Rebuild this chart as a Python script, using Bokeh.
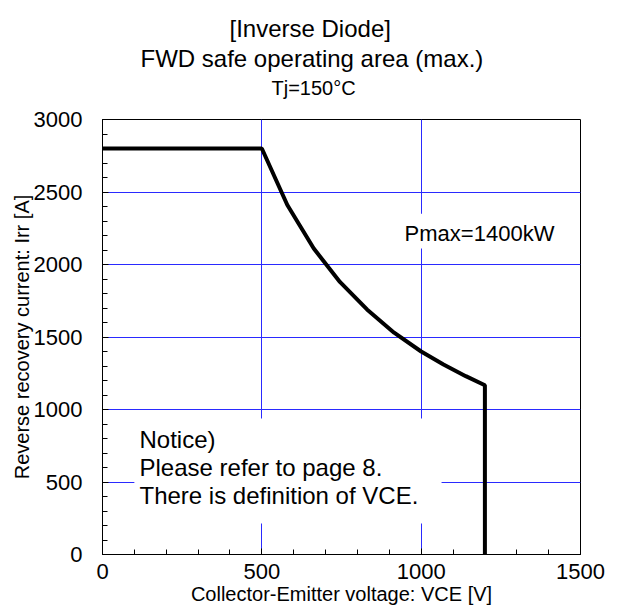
from bokeh.plotting import figure
from bokeh.models import Label, BoxAnnotation, FixedTicker, Range1d, Title
from bokeh.embed import file_html
from bokeh.resources import INLINE

# ---- data ----
vce = [0, 500, 580, 663, 745, 830, 915, 1000, 1070, 1140, 1200, 1200]
irr = [2800, 2800, 2410, 2110, 1880, 1690, 1530, 1400, 1310, 1230, 1167, 0]

x_major = [0, 500, 1000, 1500]
y_major = [0, 500, 1000, 1500, 2000, 2500, 3000]
x_minor = [0, 100, 200, 300, 400, 500, 600, 700, 800, 900, 1000, 1100, 1200, 1300, 1400, 1500]
y_minor = [0, 100, 200, 300, 400, 500, 600, 700, 800, 900, 1000, 1100, 1200, 1300, 1400, 1500,
           1600, 1700, 1800, 1900, 2000, 2100, 2200, 2300, 2400, 2500, 2600, 2700, 2800, 2900, 3000]

title_lines = ["[Inverse Diode]", "FWD safe operating area (max.)"]
subtitle = "Tj=150°C"
x_title = "Collector-Emitter voltage: VCE [V]"
y_title = "Reverse recovery current: Irr [A]"
pmax_text = "Pmax=1400kW"
notice_lines = ["Notice)", "Please refer to page 8.", "There is definition of VCE."]

FONT = "Liberation Sans"

p = figure(width=620, height=611,
           x_range=Range1d(0, 1500), y_range=Range1d(0, 3000),
           output_backend="svg", toolbar_location=None,
           min_border_left=102, min_border_right=40,
           min_border_top=119, min_border_bottom=57)
p.title.visible = False

p.background_fill_color = "white"
p.border_fill_color = "white"
p.outline_line_color = "black"
p.outline_line_width = 1

# ticks
p.xaxis.ticker = FixedTicker(ticks=x_major, minor_ticks=x_minor)
p.yaxis.ticker = FixedTicker(ticks=y_major, minor_ticks=y_minor)
for ax in (p.xaxis, p.yaxis):
    ax.axis_line_color = "black"
    ax.major_tick_in = 6
    ax.major_tick_out = 0
    ax.minor_tick_in = 5
    ax.minor_tick_out = 0
    ax.major_tick_line_color = "black"
    ax.minor_tick_line_color = "black"
    ax.major_label_text_font = FONT
    ax.major_label_text_font_size = "22px"
    ax.major_label_text_color = "black"
    ax.axis_label_text_font = FONT
    ax.axis_label_text_font_size = "20px"
    ax.axis_label_text_font_style = "normal"
    ax.axis_label_text_color = "black"
p.xaxis.major_label_standoff = 9
p.xaxis.axis_label_standoff = 1
p.yaxis.major_label_standoff = 20
p.yaxis.axis_label_standoff = -2
p.xaxis.axis_label = x_title
p.yaxis.axis_label = y_title

# grid
p.xgrid.ticker = FixedTicker(ticks=x_major)
p.ygrid.ticker = FixedTicker(ticks=y_major)
p.grid.grid_line_color = "#2a2aff"
p.grid.grid_line_width = 1

# curve
p.line(vce, irr, line_color="black", line_width=4)

# white boxes behind text
p.add_layout(BoxAnnotation(left=100, right=1064, bottom=214, top=938,
                           fill_color="white", fill_alpha=1.0, line_color=None))
p.add_layout(BoxAnnotation(left=940, right=1420, bottom=2110, top=2350,
                           fill_color="white", fill_alpha=1.0, line_color=None))

# titles (first added sits nearest the plot); a tiny blank title acts as spacer
p.add_layout(Title(text=" ", standoff=14, text_font=FONT, text_font_size="2px"), "above")
p.add_layout(Title(text=subtitle, align="left", offset=169, standoff=5,
                   text_font=FONT, text_font_size="20px", text_font_style="normal",
                   text_color="black"), "above")
p.add_layout(Title(text=title_lines[1], align="left", offset=38, standoff=2,
                   text_font=FONT, text_font_size="24px", text_font_style="normal",
                   text_color="black"), "above")
p.add_layout(Title(text=title_lines[0], align="left", offset=127, standoff=0,
                   text_font=FONT, text_font_size="24px", text_font_style="normal",
                   text_color="black"), "above")

def lab(text, x, y, size, align="left"):
    p.add_layout(Label(x=x, y=y, x_units="screen", y_units="screen", text=text,
                       text_font=FONT, text_font_size=size, text_color="black",
                       text_align=align, text_baseline="alphabetic"))

# annotations in the plot
lab(pmax_text, 377, 321, "22px", align="center")
lab(notice_lines[0], 37, 115, "24px")
lab(notice_lines[1], 37, 87, "24px")
lab(notice_lines[2], 37, 59, "24px")

open("out.html", "w").write(file_html(p, INLINE))
